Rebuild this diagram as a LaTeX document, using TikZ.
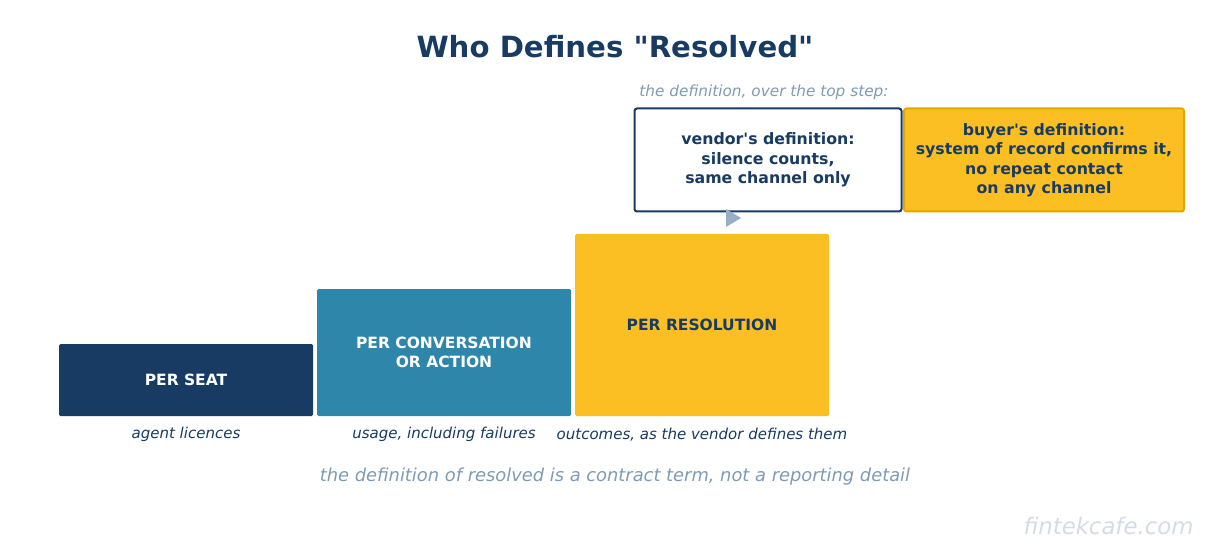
\documentclass[tikz,border=0pt]{standalone}
\usepackage{fontspec}
\setmainfont{DejaVu Sans}[Ligatures=TeXOff]
\usetikzlibrary{arrows.meta}
\definecolor{navy}{HTML}{173B63}
\definecolor{teal}{HTML}{2E87AB}
\definecolor{gold}{HTML}{FBBF24}
\definecolor{goldd}{HTML}{E0A800}
\definecolor{grayb}{HTML}{7F9AB5}
\definecolor{wm}{HTML}{D3DCE5}
\newcommand{\dq}{\symbol{34}}
\newcommand{\sq}{\symbol{39}}
\begin{document}
\begin{tikzpicture}[x=1pt,y=-1pt,
 stp/.style={inner sep=0,outer sep=0,rounded corners=1.5pt,font=\bfseries\fontsize{15.5}{19}\selectfont,align=center},
 lbl/.style={font=\itshape\fontsize{15}{16}\selectfont,text=navy},
 defbox/.style={draw,line width=2pt,rounded corners=2.5pt,font=\bfseries\fontsize{15.75}{19.5}\selectfont,text=navy,align=center}]
\useasboundingbox (0,0) rectangle (1230,553);
\node[font=\bfseries\fontsize{29.2}{30}\selectfont,text=navy] (title) at (615,47) {Who Defines \dq Resolved\dq};
\path[stp,fill=navy] (59,344) rectangle (313,416);
\node[stp,text=white] (s1) at (186,380) {PER SEAT};
\path[stp,fill=teal] (317,289) rectangle (571,416);
\node[stp,text=white] (s2) at (444,352) {PER CONVERSATION\\OR ACTION};
\path[stp,fill=gold] (575,234) rectangle (829,416);
\node[stp,text=navy] (s3) at (702,325) {PER RESOLUTION};
\node[lbl] (c1) at (186,434) {agent licences};
\node[lbl] (c2) at (444,434) {usage, including failures};
\node[lbl] (c3) at (702,435) {outcomes, as the vendor defines them};
\node[font=\itshape\fontsize{15.3}{16}\selectfont,text=grayb] (hint) at (764,92) {the definition, over the top step:};
\node[defbox,draw=navy,fill=white,minimum width=267,minimum height=103] (v) at (768,160) {vendor\sq s definition:\\silence counts,\\same channel only};
\node[defbox,draw=goldd,fill=gold,minimum width=280,minimum height=103] (b) at (1044,160) {buyer\sq s definition:\\system of record confirms it,\\no repeat contact\\on any channel};
\coordinate (a0) at (726,209);
\coordinate (a1) at (741,218);
\coordinate (a2) at (726,227);
\fill[grayb!80] (a0) -- (a1) -- (a2) -- cycle;
\node[font=\itshape\fontsize{17.85}{20}\selectfont,text=grayb] (foot) at (615,477) {the definition of resolved is a contract term, not a reporting detail};
\node[font=\itshape\fontsize{22.8}{24}\selectfont,text=wm,anchor=east] (w) at (1197,526) {fintekcafe.com};
\end{tikzpicture}
\end{document}
